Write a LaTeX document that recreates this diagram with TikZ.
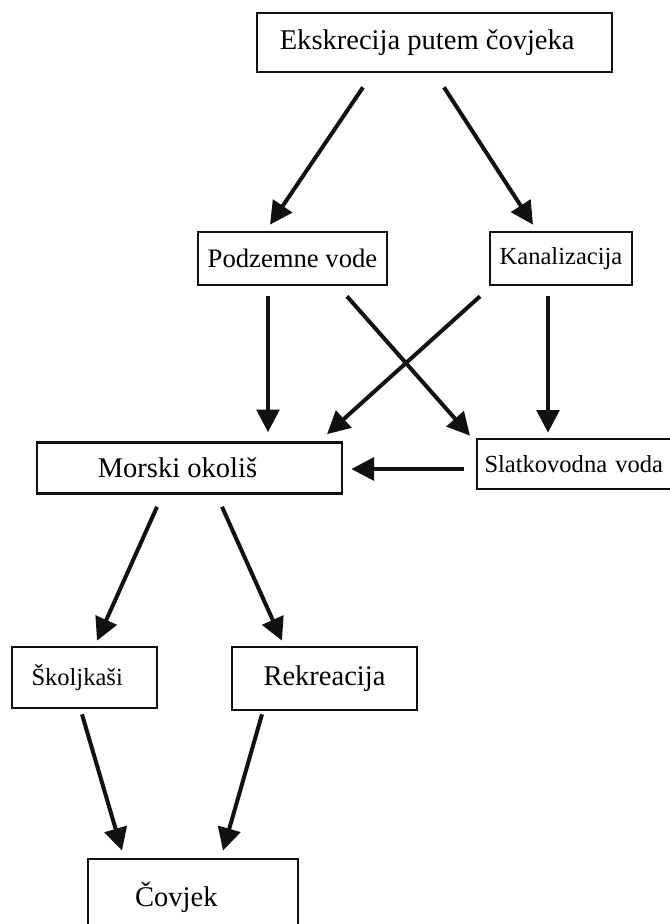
\documentclass[tikz,border=0pt]{standalone}
\usepackage{fontspec}
\setmainfont{Liberation Serif}
\usepackage{xcolor}
\usepackage{tikz}
\usetikzlibrary{arrows.meta, positioning, calc}
\definecolor{inkblack}{HTML}{111111}

\begin{document}
\begin{tikzpicture}[x=0.75pt, y=-0.75pt,
    box/.style={draw=inkblack, line width=2pt, fill=white, inner sep=0pt, anchor=center},
    bigtext/.style={font=\fontsize{21.4}{24}\selectfont},
    midtext/.style={font=\fontsize{20}{23}\selectfont},
    smalltext/.style={font=\fontsize{18.4}{21}\selectfont},
    flow/.style={draw=inkblack, line width=3pt, -{Triangle[length=17pt, width=17pt]}}]
  % Page frame
  \useasboundingbox (0,0) rectangle (670,924);

  % Source at the top
  \node[box, bigtext, minimum width=266.25pt, minimum height=44.25pt] (eks) at (434.5, 42.5) {Ekskrecija putem čovjeka\hspace*{11pt}};

  % Pathways
  \node[box, midtext, minimum width=141.75pt, minimum height=39.75pt] (pod) at (292.5, 258.5) {Podzemne vode};
  \node[box, smalltext, minimum width=106.5pt, minimum height=39.75pt] (kan) at (561, 258.5) {Kanalizacija};

  % Receiving waters (fresh water box runs off the right edge)
  \node[box, bigtext, minimum width=228.75pt, minimum height=38.25pt] (mor) at (189.5, 468) {Morski okoliš\hspace*{18pt}};
  \node[box, smalltext, minimum width=146.25pt, minimum height=37.5pt, text width=135pt, align=left] (sla) at (574.5, 464) {Slatkovodna voda};

  % Exposure routes
  \node[box, smalltext, minimum width=108.75pt, minimum height=45.75pt] (sko) at (84.5, 677.5) {Školjkaši\hspace*{11pt}};
  \node[box, bigtext, minimum width=138.75pt, minimum height=47.25pt] (rek) at (324.5, 678.5) {Rekreacija};

  % Receptor (box runs off the bottom edge)
  \node[box, bigtext, minimum width=157.5pt, minimum height=57pt] (cov) at (193, 897) {Čovjek\hspace*{25pt}};

  % Arrows from the source
  \draw[flow] ($(eks.south)+(-71.5,14)$) -- ($(pod.north)+(-22.5,-6)$);
  \draw[flow] ($(eks.south)+(9.5,14)$) -- ($(kan.north)+(-28,-6)$);

  % Crossing arrows into the waters
  \draw[flow] ($(pod.south)+(-24.5,10)$) -- ($(mor.north)+(78.5,-9)$);
  \draw[flow] ($(pod.south)+(54.5,10)$) -- ($(sla.north)+(-104.5,-2)$);
  \draw[flow] ($(kan.south)+(-81,10)$) -- ($(mor.north)+(137.5,-7)$);
  \draw[flow] ($(kan.south)+(-13,10)$) -- ($(sla.north)+(-26.5,-5)$);
  \draw[flow] ($(sla.west)+(-12,5)$) -- ($(mor.east)+(8,1)$);

  % Routes to the receptor
  \draw[flow] ($(mor.south)+(-32.5,12)$) -- ($(sko.north)+(12.5,-5)$);
  \draw[flow] ($(mor.south)+(32.5,12)$) -- ($(rek.north)+(-42.5,-5)$);
  \draw[flow] ($(sko.south)+(-2.5,5)$) -- ($(cov.north)+(-71,-7)$);
  \draw[flow] ($(rek.south)+(-62.5,3)$) -- ($(cov.north)+(30,-7)$);
\end{tikzpicture}
\end{document}
